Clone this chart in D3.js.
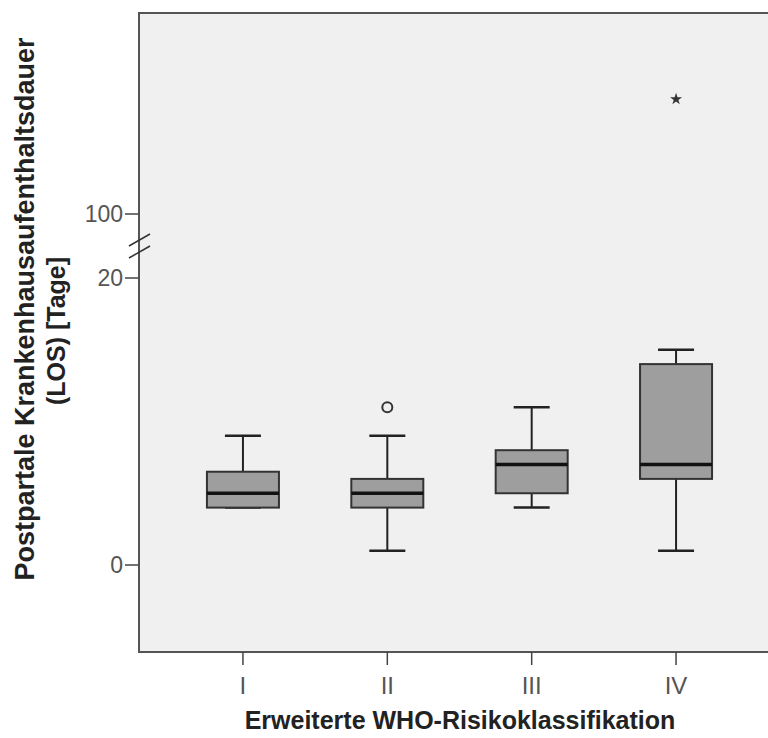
<!DOCTYPE html>
<html>
<head>
<meta charset="utf-8">
<script src="https://cdn.jsdelivr.net/npm/d3@7"></script>
<style>
  body { margin: 0; background: #fff; }
  svg { display: block; font-family: "Liberation Sans", Arial, sans-serif; }
</style>
</head>
<body>
<svg id="chart" width="768" height="738"></svg>
<script>
// boxplot stats per WHO class (days)
const categories = ["I", "II", "III", "IV"];
const whiskerLow = [4, 1, 4, 1];
const q1 = [4, 4, 5, 6];
const median = [5, 5, 7, 7];
const q3 = [6.5, 6, 8, 14];
const whiskerHigh = [9, 9, 11, 15];
const outliers = [{ cat: "II", value: 11 }];      // circle
const extremes = [{ cat: "IV", value: 108 }];     // star
const lowTicks = [0, 20];
const highTicks = [100];

const svg = d3.select("#chart");

const frame = { left: 139, top: 13, right: 790, bottom: 652 };

// x: point scale for the four classes
const x = d3.scalePoint()
  .domain(categories)
  .range([frame.left, 780])
  .padding(0.72);

// broken y axis: lower segment and upper segment
const yLow = d3.scaleLinear().domain([0, 20]).range([565, 278]);
const yHigh = d3.scaleLinear().domain([100, 114]).range([214, 13]);
const y = v => v >= 50 ? yHigh(v) : yLow(v);

// plot background
svg.append("rect")
  .attr("x", frame.left)
  .attr("y", frame.top)
  .attr("width", frame.right - frame.left)
  .attr("height", frame.bottom - frame.top)
  .attr("fill", "#f0f0f0")
  .attr("stroke", "#555")
  .attr("stroke-width", 2);

// y ticks
const yTicks = lowTicks.concat(highTicks);
const yt = svg.append("g");
yt.selectAll("line")
  .data(yTicks)
  .join("line")
  .attr("x1", frame.left - 14)
  .attr("x2", frame.left)
  .attr("y1", d => y(d))
  .attr("y2", d => y(d))
  .attr("stroke", "#444")
  .attr("stroke-width", 1.5);
yt.selectAll("text")
  .data(yTicks)
  .join("text")
  .attr("x", frame.left - 16)
  .attr("y", d => y(d))
  .attr("dy", "0.36em")
  .attr("text-anchor", "end")
  .attr("font-size", 23)
  .attr("fill", "#555")
  .text(d => d);

// break marks on the axis
const brk = [yLow(20) - 38, yLow(20) - 26];
svg.append("g")
  .selectAll("line")
  .data(brk)
  .join("line")
  .attr("x1", frame.left - 10)
  .attr("x2", frame.left + 11)
  .attr("y1", d => d + 6)
  .attr("y2", d => d - 6)
  .attr("stroke", "#333")
  .attr("stroke-width", 1.5);

// x ticks
const xt = svg.append("g");
xt.selectAll("line")
  .data(categories)
  .join("line")
  .attr("x1", d => x(d))
  .attr("x2", d => x(d))
  .attr("y1", frame.bottom)
  .attr("y2", frame.bottom + 13)
  .attr("stroke", "#444")
  .attr("stroke-width", 1.5);
xt.selectAll("text")
  .data(categories)
  .join("text")
  .attr("x", d => x(d))
  .attr("y", frame.bottom + 42)
  .attr("text-anchor", "middle")
  .attr("font-size", 24)
  .attr("fill", "#555")
  .text(d => d);

// boxes
const boxW = 72, capW = 36;
const boxes = svg.append("g")
  .selectAll("g")
  .data(categories)
  .join("g");

boxes.append("line")
  .attr("x1", d => x(d)).attr("x2", d => x(d))
  .attr("y1", (d, i) => y(whiskerLow[i]))
  .attr("y2", (d, i) => y(whiskerHigh[i]))
  .attr("stroke", "#222").attr("stroke-width", 2);

boxes.selectAll("line.cap")
  .data((d, i) => [[d, whiskerLow[i]], [d, whiskerHigh[i]]])
  .join("line")
  .attr("class", "cap")
  .attr("x1", d => x(d[0]) - capW / 2)
  .attr("x2", d => x(d[0]) + capW / 2)
  .attr("y1", d => y(d[1]))
  .attr("y2", d => y(d[1]))
  .attr("stroke", "#222").attr("stroke-width", 2.5);

boxes.append("rect")
  .attr("x", d => x(d) - boxW / 2)
  .attr("width", boxW)
  .attr("y", (d, i) => y(q3[i]))
  .attr("height", (d, i) => y(q1[i]) - y(q3[i]))
  .attr("fill", "#9e9e9e")
  .attr("stroke", "#333")
  .attr("stroke-width", 2);

boxes.append("line")
  .attr("x1", d => x(d) - boxW / 2)
  .attr("x2", d => x(d) + boxW / 2)
  .attr("y1", (d, i) => y(median[i]))
  .attr("y2", (d, i) => y(median[i]))
  .attr("stroke", "#111").attr("stroke-width", 3.5);

// outliers
svg.append("g")
  .selectAll("circle")
  .data(outliers)
  .join("circle")
  .attr("cx", d => x(d.cat))
  .attr("cy", d => y(d.value))
  .attr("r", 5)
  .attr("fill", "none")
  .attr("stroke", "#333")
  .attr("stroke-width", 2);

svg.append("g")
  .selectAll("path")
  .data(extremes)
  .join("path")
  .attr("transform", d => `translate(${x(d.cat)},${y(d.value)})`)
  .attr("d", d3.symbol().type(d3.symbolStar).size(45))
  .attr("fill", "#333");

// axis titles
svg.append("text")
  .attr("x", 460)
  .attr("y", 729)
  .attr("text-anchor", "middle")
  .attr("font-size", 25)
  .attr("font-weight", "bold")
  .attr("fill", "#222")
  .text("Erweiterte WHO-Risikoklassifikation");

const ytitle = svg.append("g")
  .attr("font-weight", "bold")
  .attr("fill", "#222")
  .attr("text-anchor", "middle");
ytitle.append("text")
  .attr("transform", "translate(34,309) rotate(-90)")
  .attr("font-size", 27)
  .text("Postpartale Krankenhausaufenthaltsdauer");
ytitle.append("text")
  .attr("transform", "translate(65,331) rotate(-90)")
  .attr("font-size", 25)
  .text("(LOS) [Tage]");
</script>
</body>
</html>
